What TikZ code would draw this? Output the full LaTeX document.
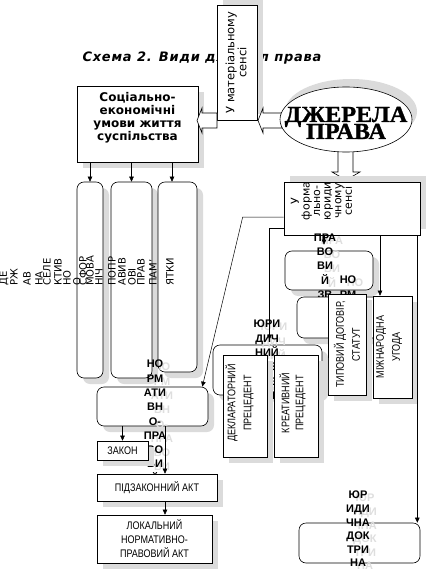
\documentclass[tikz,border=0pt]{standalone}
\usepackage{fontspec}
\setmainfont{DejaVu Sans}[BoldFont={DejaVu Sans Bold},ItalicFont={DejaVu Sans Oblique},BoldItalicFont={DejaVu Sans Bold Oblique}]
\newfontfamily\titlefont{DejaVu Sans}[BoldFont={DejaVu Sans Bold},BoldItalicFont={DejaVu Sans Bold Oblique},LetterSpace=6]
\newfontfamily\arialfont{Liberation Sans}
\newfontfamily\narrowfont{Liberation Sans}[FakeStretch=0.82]
\newfontfamily\wordartfont{Liberation Serif}[FakeStretch=1.05,BoldFeatures={FakeBold=1.2}]
\usetikzlibrary{arrows.meta,positioning,calc,shapes.geometric,shadows}

\tikzset{
  box/.style={draw,fill=white,line width=0.6pt,inner sep=0pt},
  lowshadow/.style={drop shadow={shadow xshift=6pt,shadow yshift=-6pt,fill=black!14,opacity=1}},
  highshadow/.style={drop shadow={shadow xshift=6pt,shadow yshift=6pt,fill=black!14,opacity=1}},
  rbox/.style={box,rounded corners=7pt},
  blockarr/.style={draw,fill=white,line width=0.6pt,line join=miter},
  arr/.style={-{Triangle[length=5pt,width=4.5pt]},line width=0.5pt},
  vtext/.style={rotate=90,align=center,inner sep=0pt},
  coltext/.style={rotate=90,anchor=west,inner sep=0pt,font=\fontsize{10}{10}\selectfont},
  spilltext/.style={anchor=north,align=center,inner sep=0pt,font=\arialfont\bfseries\fontsize{11}{14.3}\selectfont},
  narrowtext/.style={align=center,inner sep=0pt,font=\narrowfont\fontsize{11}{14}\selectfont},
}

% overflowing label with its pale shadow copy
\newcommand{\spilllabel}[4][]{%
  \node[spilltext,text=black!13,xshift=7pt,yshift=-3pt,#1] (#2ghost) at (#3) {#4};
  \node[spilltext,#1] (#2) at (#3) {#4};}

\begin{document}
\begin{tikzpicture}[x=1pt,y=-1pt]
  \useasboundingbox (0,0) rectangle (425,572);
  % title, partly hidden by the box drawn over it
  \node[font=\titlefont\bfseries\itshape\fontsize{13}{15}\selectfont] (title) at (202,58) {Схема 2. Види джерел права};

  % material sense
  \node[box,highshadow,minimum width=40pt,minimum height=115pt] (mat) at (237,62.5) {};
  \node[vtext,font=\fontsize{11.5}{12}\selectfont] (mattext) at ([xshift=-1pt]mat.center) {У матеріальному\\сенсі};
  \node[box,lowshadow,minimum width=121pt,minimum height=76pt] (soc) at (137.5,124) {};
  \node[align=center,inner sep=0pt,font=\bfseries\fontsize{12}{13}\selectfont] (soctext) at ([yshift=6pt]soc.center) {Соціально-\\економічні\\умови життя\\суспільства};

  % hollow arrows
  \draw[blockarr] (217,113) -- (202,113) -- (202,108) -- (197,120.5) -- (202,133) -- (202,128) -- (217,128) -- cycle;
  \draw[blockarr] (282,113) -- (263,113) -- (263,108) -- (258,120.5) -- (263,133) -- (263,128) -- (282,128) -- cycle;
  \draw[blockarr] (338,145) -- (338,172) -- (332,172) -- (346,180) -- (360,172) -- (353,172) -- (353,145) -- cycle;

  % sources of law
  \node[ellipse,draw,fill=white,line width=0.6pt,minimum width=132pt,minimum height=65pt,
    drop shadow={shadow xshift=5pt,shadow yshift=8pt,fill=black!14,opacity=1}] (src) at (346,119.5) {};
  \node[anchor=base,inner sep=0pt,font=\wordartfont\bfseries\fontsize{23}{23}\selectfont] (srctop) at (346,122) {ДЖЕРЕЛА};
  \node[anchor=base,inner sep=0pt,font=\wordartfont\bfseries\fontsize{23}{23}\selectfont] (srcbot) at (346,139) {ПРАВА};

  % formal-legal sense
  \node[box,highshadow,minimum width=136pt,minimum height=53pt] (form) at (352,208.5) {};
  \node[vtext,font={\fontsize{11}{10.6}\selectfont\lineskiplimit=-20pt}] (formtext) at (321.5,201) {У\\форма\\льно-\\юриди\\чному\\сенсі};

  % three tall boxes
  \node[rbox,lowshadow,minimum width=26pt,minimum height=196pt] (tallA) at (90,280) {};
  \node[rbox,lowshadow,minimum width=41pt,minimum height=196pt] (tallB) at (131.5,280) {};
  \node[rbox,lowshadow,minimum width=39pt,minimum height=190pt] (tallC) at (177.5,277) {};
  \foreach \x/\txt in {4/ДЕ,14/РЖ,27/АВ,39/НА,47/СЕЛЕ,58/КТИВ,67/НО,77/О,83/СФОР,90/МОВА,99/НІЧ,112/ПОПР,122/АВИВ,132/ОВІ,141/ПРАВ,153/ПАМ',170/ЯТКИ}
    \node[coltext] (col\x) at (\x,286) {\txt};

  % normative acts
  \node[rbox,lowshadow,minimum width=111pt,minimum height=39pt] (norm) at (152.5,406.5) {};
  \spilllabel{normtext}{155,360}{НО\\РМ\\АТИ\\ВН\\О-\\ПРА\\ВО\\ВИ\\Й}
  \node[box,lowshadow,minimum width=51pt,minimum height=19pt,narrowtext] (zakon) at (122.5,450.5) {ЗАКОН};
  \node[box,lowshadow,minimum width=120pt,minimum height=27pt,narrowtext] (pidz) at (157,487.5) {ПІДЗАКОННИЙ АКТ};
  \node[box,lowshadow,minimum width=115pt,minimum height=48pt,narrowtext] (lok) at (154.5,539) {ЛОКАЛЬНИЙ\\НОРМАТИВНО-\\ПРАВОВИЙ АКТ};

  % custom and contracts
  \node[rbox,lowshadow,minimum width=88pt,minimum height=39pt] (pravzv) at (329,270.5) {};
  \spilllabel{pravtext}{325,233.5}{ПРА\\ВО\\ВИ\\Й\\ЗВ\\ИЧ\\АЙ}
  \node[rbox,lowshadow,minimum width=83pt,minimum height=41pt] (normdog) at (338.5,317.5) {};
  \spilllabel{dogtext}{348,276}{НО\\РМ\\АТИ\\ВНИ\\Й\\ДО\\ГО\\ВІР}
  \node[box,lowshadow,minimum width=38pt,minimum height=101pt] (typ) at (347,344.5) {};
  \node[vtext,font=\narrowfont\fontsize{11}{16}\selectfont] (typtext) at (typ.center) {ТИПОВИЙ ДОГОВІР,\\СТАТУТ};
  \node[box,lowshadow,minimum width=39pt,minimum height=102pt] (mizh) at (392.5,347) {};
  \node[vtext,font=\narrowfont\fontsize{11}{16}\selectfont] (mizhtext) at ([xshift=-3.5pt]mizh.center) {МІЖНАРОДНА\\УГОДА};

  % precedent
  \node[rbox,lowshadow,minimum width=109pt,minimum height=50pt] (prec) at (267.5,370) {};
  \spilllabel{prectext}{267,320}{ЮРИ\\ДИЧ\\НИЙ\\ПРЕ\\ЦЕ\\ДЕНТ}
  \node[box,lowshadow,minimum width=44pt,minimum height=102pt] (dekl) at (245,406) {};
  \node[vtext,font=\narrowfont\fontsize{11}{16}\selectfont] (dekltext) at ([xshift=-5.5pt,yshift=3pt]dekl.center) {ДЕКЛАРАТОРНИЙ\\ПРЕЦЕДЕНТ};
  \node[box,lowshadow,minimum width=44pt,minimum height=102pt] (kreat) at (296,406) {};
  \node[vtext,font=\narrowfont\fontsize{11}{14}\selectfont] (kreattext) at ([xshift=-3.5pt,yshift=3pt]kreat.center) {КРЕАТИВНИЙ\\ПРЕЦЕДЕНТ};

  % doctrine
  \node[rbox,minimum width=121pt,minimum height=40pt] (dok) at (359.5,543) {};
  \spilllabel[font=\arialfont\bfseries\fontsize{11}{13.6}\selectfont]{doktext}{358,491}{ЮР\\ИДИ\\ЧНА\\ДОК\\ТРИ\\НА}

  % connectors
  \coordinate (tallCin) at ([xshift=-5.5pt]tallC.north);
  \draw[arr] (tallA.north |- soc.south) -- (tallA.north);
  \draw[arr] (tallB.north |- soc.south) -- (tallB.north);
  \draw[arr] (tallCin |- soc.south) -- (tallCin);
  \coordinate (formL1) at ([yshift=-8.5pt]form.west);
  \coordinate (normin) at ([xshift=-6pt]norm.north east);
  \draw[arr] (formL1) -- ++(-41,0) -- (normin);
  \coordinate (formL2) at ([yshift=-19.5pt]form.west);
  \coordinate (precin) at ([xshift=2pt,yshift=5pt]prec.north);
  \draw[arr] (formL2) -| (precin);
  \coordinate (pravin) at ([xshift=-5pt,yshift=6pt]pravzv.north);
  \draw[arr] (pravin |- form.south) -- (pravin);
  \coordinate (mizhin) at ([xshift=-12.5pt]mizh.north);
  \draw[arr] (mizhin |- form.south) -- (mizhin);
  \coordinate (dokin) at ([xshift=-3pt]dok.north east);
  \draw[arr] (dokin |- form.south) -- (dokin);
  \draw[arr] (zakon.north |- norm.south) -- (zakon.north);
  \coordinate (pidzin) at ([xshift=8pt]pidz.north);
  \draw[arr] (pidzin |- norm.south) -- (pidzin);
  \coordinate (lokin) at ([xshift=8pt]pidz.south);
  \draw[arr] (lokin) -- (lokin |- lok.north);
\end{tikzpicture}
\end{document}
